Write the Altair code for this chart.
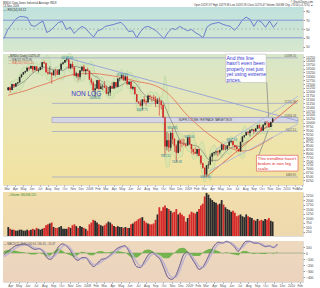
import altair as alt
import pandas as pd

# ---------------- data (weekly, Dow Jones Industrials) ----------------
week_close = [
    12276, 12110, 12481, 12354, 12560, 12612, 12961, 13120, 13264, 13327, 13556, 13507, 13668, 13424, 13639, 13361, 13409,
    13611, 13907, 13851, 13265, 13182, 13239, 13079, 13379, 13358, 13113, 13442, 13820, 13896, 14066, 14093, 13522, 13807,
    13595, 13043, 13177, 12981, 13372, 13625, 13340, 13450, 13366,
    12800, 12606, 12099, 12207, 12743, 12183, 12348, 12381, 12266, 11894, 11951, 12361, 12216, 12609, 12325, 12849, 12891,
    13058, 12745, 12986, 12480, 12638, 12209, 12307, 11843, 11346, 11288, 11100, 11496, 11370, 11326, 11734, 11659, 11628,
    11543, 11220, 11421, 11388, 11143, 10325, 8451, 8852, 8378, 9325, 8943, 8497, 8046, 8829, 8635, 8629, 8579, 8515,
    9034, 8599, 8281, 8077, 8001, 8280, 7850, 7366, 7063, 6627, 7224, 7278, 7776, 8018, 8083, 8131, 8076, 8212, 8575, 8268,
    8277, 8500, 8764, 8799, 8539, 8438, 8280, 8147, 8743, 9093, 9172, 9370, 9321, 9506, 9544, 9441, 9606, 9820, 9665, 9488,
    9865, 9996, 9972, 9713, 10023, 10270]
week_high = [
    12300, 12330, 12520, 12500, 12570, 12630, 12970, 13140, 13290, 13360, 13570, 13630, 13700, 13690, 13660, 13660, 13540,
    13630, 13920, 14020, 13900, 13470, 13660, 13250, 13400, 13500, 13460, 13470, 13830, 13950, 14080, 14198, 14100, 13830,
    13960, 13650, 13300, 13180, 13400, 13650, 13750, 13460, 13560,
    13370, 12900, 12700, 12500, 12780, 12750, 12560, 12500, 12700, 12400, 12300, 12400, 12600, 12650, 12640, 12880, 12920,
    13137, 13100, 13030, 13000, 12660, 12680, 12380, 12320, 11860, 11400, 11450, 11520, 11700, 11500, 11800, 11800, 11700,
    11790, 11720, 11600, 11650, 11450, 11200, 10400, 9400, 9300, 9400, 9654, 9000, 8600, 8900, 8900, 8950, 8950, 8650,
    9050, 9088, 8600, 8300, 8400, 8300, 8300, 7900, 7400, 7100, 7250, 7500, 7930, 8050, 8100, 8200, 8200, 8250, 8600, 8600,
    8500, 8550, 8800, 8878, 8800, 8550, 8550, 8300, 8780, 9100, 9200, 9400, 9450, 9550, 9600, 9550, 9650, 9850, 9900, 9750,
    9870, 10100, 10120, 10050, 10050, 10300]
week_low = [
    12050, 11940, 12100, 12260, 12300, 12470, 12600, 12900, 13100, 13180, 13300, 13380, 13500, 13250, 13380, 13340, 13250,
    13400, 13450, 13800, 13250, 13100, 13130, 12520, 13050, 13000, 13080, 13080, 13400, 13750, 13860, 13950, 13500, 13460,
    13500, 13030, 12900, 12720, 12800, 13300, 13250, 13100, 13320,
    12780, 12450, 12050, 11635, 12180, 12100, 12150, 12090, 12230, 11850, 11740, 11730, 12200, 12200, 12300, 12290, 12680,
    12800, 12720, 12700, 12470, 12440, 12180, 12100, 11830, 11330, 11200, 11050, 10828, 11250, 11100, 11300, 11500, 11350,
    11400, 11000, 11200, 10450, 10850, 10300, 7882, 8200, 8100, 8175, 8600, 8100, 7449, 8000, 8100, 8400, 8500, 8400,
    8500, 8550, 8000, 7900, 7950, 7850, 7800, 7250, 7000, 6470, 6550, 7000, 7250, 7450, 7850, 7900, 7800, 7950, 8200, 8200,
    8200, 8250, 8450, 8650, 8450, 8300, 8250, 8087, 8100, 8700, 9000, 9150, 9200, 9100, 9450, 9250, 9400, 9600, 9600, 9430,
    9450, 9800, 9850, 9670, 9700, 10000]
week_volume = [
    500, 400, 350, 350, 300, 300, 350, 350, 300, 300, 350, 300, 350, 400, 350, 450, 400, 350, 400, 450, 600, 650, 700, 750,
    500, 450, 450, 500, 550, 400, 400, 400, 500, 450, 600, 650, 550, 450, 550, 500, 450, 400, 300,
    650, 750, 900, 850, 750, 650, 600, 550, 600, 700, 800, 750, 650, 550, 500, 550, 500, 500, 450, 500, 450, 450, 650, 700,
    800, 850, 950, 1000, 1050, 850, 750, 700, 650, 650, 700, 900, 1200, 1600, 1400, 1600, 1700, 1550, 1500, 1400, 1300,
    1350, 1500, 1200, 1300, 1200, 1100, 800,
    1000, 1200, 1350, 1300, 1250, 1350, 1500, 1700, 1800, 2200, 2400, 2300, 2100, 2000, 1900, 1850, 1750, 1800, 2000, 1750,
    1600, 1500, 1450, 1350, 1400, 1300, 1100, 1150, 1200, 1100, 1050, 1200, 1100, 1050, 1000, 900, 850, 950, 850, 900, 850,
    950, 900, 1000, 850, 800]
first_open = 12114

# biweekly indicator readings
rsi_values = [28, 49, 60, 72, 78, 78, 76, 58, 56, 63, 68, 42, 47, 56, 65, 67, 49, 54, 40, 49,
              56, 51, 40, 32, 46, 49, 56, 58, 60, 63, 65, 56, 44, 46, 30, 44, 54, 56, 51, 46,
              37, 28, 42, 51, 49, 56, 51, 46, 49, 42, 37, 30, 54, 61, 63, 65, 61, 58, 56, 47,
              56, 70, 77, 72, 56, 70, 65, 54, 68, 54, 65]
macd_values = [-30, 30, 75, 120, 135, 150, 135, 90, 60, 75, 30, -75, -105, -15, 105, 150, 120, 45, -75, -120,
               -75, -75, -165, -225, -165, -105, -90, -45, 15, 75, 105, 120, 30, -105, -225, -240, -135, -30, 15, -45,
               -105, -255, -405, -435, -375, -210, -30, 15, -75, -180, -270, -225, -105, 30, 135, 180, 165, 195, 165, 105,
               30, 120, 195, 195, 165, 165, 135, 105, 120, 90, 150]
signal_values = [-60, -20, 30, 80, 115, 135, 140, 115, 85, 75, 50, -20, -70, -50, 30, 110, 130, 80, -10, -90,
                 -95, -80, -130, -190, -190, -140, -100, -60, -10, 40, 85, 110, 70, -30, -150, -210, -180, -90, -20, -20,
                 -70, -170, -320, -400, -400, -290, -120, -20, -40, -130, -220, -240, -160, -40, 80, 150, 170, 180, 175, 130,
                 70, 90, 160, 190, 180, 170, 150, 120, 115, 100, 125]

ma200_dates = ["2007-03-06", "2007-04-15", "2007-05-15", "2007-06-15", "2007-08-01", "2007-09-01", "2007-10-15",
               "2007-12-01", "2008-01-15", "2008-03-01", "2008-05-01", "2008-07-01", "2008-08-15", "2008-09-15",
               "2008-10-15", "2008-11-15", "2008-12-15", "2009-01-15", "2009-02-15", "2009-03-15", "2009-04-15",
               "2009-05-15", "2009-06-15", "2009-07-15", "2009-08-15", "2009-09-15", "2009-10-15", "2009-11-13"]
ma200_values = [11770, 11950, 12100, 12300, 12560, 12780, 13050, 13170, 13190, 13100, 12920, 12650, 12500, 12300,
                11950, 11400, 10750, 10200, 9700, 9300, 8900, 8550, 8300, 8150, 8200, 8450, 8750, 9050]

fib_levels = [14198.10, 11245.99, 10334.03, 9422.10, 6469.95]
fib_labels = ["14198.10", "11245.99", "10334.03", "9422.10", "6469.95"]
fib_starts = ["2007-03-06", "2007-08-16", "2007-08-16", "2007-08-16", "2007-08-16"]
zone_low, zone_high = 10000, 10334

trend_x1 = ["2007-10-11", "2009-03-09", "2009-04-15", "2009-03-20", "2009-10-20", "2009-09-19"]
trend_y1 = [14198, 6470, 8260, 6855, 12602, 7812]
trend_x2 = ["2010-02-13", "2010-02-13", "2010-02-13", "2010-02-13", "2009-10-27", "2009-10-25"]
trend_y2 = [10111, 11452, 11708, 9920, 10366, 9473]
trend_col = ["#8a98dc", "#e0533a", "#a9b4dc", "#a9b4dc", "#8c8c8c", "#8c8c8c"]

swing_dates = ["2007-10-11", "2008-01-22", "2008-05-02", "2008-07-15", "2008-10-10", "2008-11-04",
               "2008-11-21", "2009-01-06", "2009-03-06", "2009-06-12"]
swing_prices = [14198, 11635, 13137, 10828, 7882, 9654, 7449, 9088, 6470, 8878]
swing_text = ["14198.10", "11634.82", "13136.69", "10827.71", "7882.51", "9653.95", "7449.38", "9088.06",
              "6469.95", "8877.93"]
swing_dy = [-3, 3, -3, 3, 3, -3, 3, -3, 3, -3]

note1 = ["And this line", "hasn't even been", "properly met just", "yet using extreme", "prices."]
note1_y = [14198, 13847, 13496, 13145, 12794]
note2 = ["This trendline hasn't", "broken in non log", "scale."]
note2_y = [7653, 7334, 7015]

# ---------------- layout ----------------
W = 300
H_RSI, H_PRICE, H_VOL, H_MACD = 44, 131, 44, 41
FONT = "Liberation Sans"

x_scale = alt.Scale(domain=[alt.DateTime(year=2007, month=3, date=6),
                            alt.DateTime(year=2010, month=2, date=13)], nice=False)
rsi_scale = alt.Scale(domain=[0, 100], nice=False, zero=False)
p_scale = alt.Scale(domain=[5950, 14450], nice=False, zero=False)
v_scale = alt.Scale(domain=[0, 2450], nice=False)
m_scale = alt.Scale(domain=[-480, 200], nice=False, zero=False)

date_labels = ("month(datum.value)==0 ? timeFormat(datum.value,'%Y') : timeFormat(datum.value,'%b')")


def date_axis():
    return alt.Axis(orient="bottom", tickCount=alt.TimeIntervalStep(interval="month", step=1),
                    labelExpr=date_labels, labelFontSize=3.2, tickSize=1.2, labelPadding=0.4,
                    domain=False, grid=False, title=None, labelColor="#555", tickColor="#999",
                    labelOverlap=False)


def right_axis(values):
    return alt.Axis(orient="right", values=values, labelFontSize=3.3, tickSize=1.5, labelPadding=1,
                    domain=False, grid=False, title=None, labelColor="#444", tickColor="#999",
                    labelOverlap=False, format=".0f")


def make_enc(scale, yaxis, xaxis):
    def X(field):
        return alt.X(f"{field}:T", scale=x_scale, axis=xaxis, title=None)

    def Y(field):
        return alt.Y(f"{field}:Q", scale=scale, axis=yaxis, title=None)
    return X, Y


def bg(h, stops):
    grad = alt.Gradient(gradient="linear",
                        stops=[alt.GradientStop(color=c, offset=o) for o, c in stops],
                        x1=0, x2=0, y1=0, y2=1)
    return alt.Chart(pd.DataFrame({"k": [0]})).mark_rect(fill=grad).encode(
        x=alt.value(0), x2=alt.value(W), y=alt.value(0), y2=alt.value(h))


# ---------------- frames ----------------
wk = pd.DataFrame({
    "date": pd.date_range("2007-03-07", periods=len(week_close), freq="W-WED"),
    "close": week_close, "high": week_high, "low": week_low, "volume": week_volume})
wk["open"] = [first_open] + week_close[:-1]
wk["dir"] = ["up" if c >= o else "down" for c, o in zip(wk["close"], wk["open"])]

bw = pd.DataFrame({"date": pd.date_range("2007-03-09", periods=len(rsi_values), freq="2W-FRI"),
                   "rsi": rsi_values, "macd": macd_values, "signal": signal_values})

# ---------------- RSI panel ----------------
X, Y = make_enc(rsi_scale, right_axis([10, 30, 50, 70, 90]), None)
rsi_bg = bg(H_RSI, [(0, "#bfe2de"), (1, "#d6e7cd")])
rsi_refs = alt.Chart(pd.DataFrame({"lvl": [70, 30]})).mark_rule(color="#8696d6", strokeWidth=1).encode(
    y=Y("lvl"))
rsi_mid = alt.Chart(pd.DataFrame({"lvl": [50]})).mark_rule(color="#9a9aaa", strokeWidth=0.6,
                                                           strokeDash=[2, 2]).encode(y=Y("lvl"))
rsi_line = alt.Chart(bw).mark_line(color="#5062cc", strokeWidth=0.8).encode(x=X("date"), y=Y("rsi"))
rsi_head = alt.Chart(pd.DataFrame({"t": ["\u2014 RSI(14) 63.12"], "d": ["2007-03-08"], "v": [93]})).mark_text(
    fontSize=3, align="left", color="#333", font=FONT).encode(x=X("d"), y=Y("v"), text="t:N")
head_left = alt.Chart(pd.DataFrame({"t": ["$INDU Dow Jones Industrial Average  INDX", "13-Nov-2009"],
                                    "yy": [-4.6, -1.6]})).mark_text(
    fontSize=2.8, align="left", color="#333", font=FONT).encode(
    x=alt.value(0), y=alt.Y("yy:Q", scale=None), text="t:N")
head_right = alt.Chart(pd.DataFrame({
    "t": ["\u00a9 StockCharts.com",
          "Open 10197.47  High 10279.96  Low 10192.59  Close 10270.47  Volume 166.8M  Chg +73.00 (+0.72%) \u25b2"],
    "yy": [-4.6, -1.6]})).mark_text(fontSize=2.6, align="right", color="#333", font=FONT).encode(
    x=alt.value(W + 10), y=alt.Y("yy:Q", scale=None), text="t:N")
rsi_chart = alt.layer(rsi_bg, rsi_line, rsi_refs, rsi_mid, rsi_head, head_left, head_right).properties(
    width=W, height=H_RSI)

# ---------------- price panel ----------------
X, Y = make_enc(p_scale, right_axis(list(range(6250, 14251, 250))), date_axis())
price_bg = bg(H_PRICE, [(0, "#d7e6c9"), (0.45, "#e9e6b4"), (1, "#f3e2a0")])

bb = alt.Chart(wk).transform_window(
    bb_mean="mean(close)", bb_sd="stdev(close)", frame=[-3, 0], sort=[alt.SortField("date")]
).transform_filter("isValid(datum.bb_sd)").transform_calculate(
    bb_up="datum.bb_mean + 2*datum.bb_sd + 60", bb_lo="datum.bb_mean - 2*datum.bb_sd - 60")
bb_area = bb.mark_area(color="#c8e2ae", opacity=0.45, interpolate="monotone").encode(
    x=X("date"), y=Y("bb_up"), y2="bb_lo:Q")
bb_up = bb.mark_line(color="#a6cf94", strokeWidth=0.4, interpolate="monotone").encode(x=X("date"), y=Y("bb_up"))
bb_lo = bb.mark_line(color="#a6cf94", strokeWidth=0.4, interpolate="monotone").encode(x=X("date"), y=Y("bb_lo"))

fib = pd.DataFrame({"s": fib_starts, "e": ["2010-02-13"] * len(fib_levels), "lvl": fib_levels,
                    "lab": fib_labels})
fib_rules = alt.Chart(fib).mark_rule(color="#a3a9c6", strokeWidth=0.8).encode(
    x=X("s"), x2="e:T", y=Y("lvl"))
fib_text = alt.Chart(fib).mark_text(fontSize=2.8, align="right", dx=-2, dy=-2.2, color="#555", font=FONT).encode(
    x=X("e"), y=Y("lvl"), text="lab:N")

zone = alt.Chart(pd.DataFrame({"s": ["2007-08-16"], "e": ["2010-02-13"], "lo": [zone_low], "hi": [zone_high]})
                 ).mark_rect(fill="#d5d5ec", stroke="#8a8ab8", strokeWidth=0.5, opacity=0.9).encode(
    x=X("s"), x2="e:T", y=Y("lo"), y2="hi:Q")
zone_text = alt.Chart(pd.DataFrame({"d": ["2009-03-07"], "v": [(zone_low + zone_high) / 2],
                                    "t": ["SUPPLY ZONE / RETRACE TARGET BOX"]})).mark_text(
    fontSize=2.8, color="#333", font=FONT).encode(x=X("d"), y=Y("v"), text="t:N")

ma200 = alt.Chart(pd.DataFrame({"d": ma200_dates, "v": ma200_values})).mark_line(
    color="#e27a5c", strokeWidth=0.9, interpolate="monotone").encode(x=X("d"), y=Y("v"))
ma50 = alt.Chart(wk).transform_window(
    ma50="mean(close)", frame=[-9, 0], sort=[alt.SortField("date")]).mark_line(
    color="#6f6f6f", strokeWidth=0.6, interpolate="monotone").encode(x=X("date"), y=Y("ma50"))

trends = alt.Chart(pd.DataFrame({"x1": trend_x1, "y1": trend_y1, "x2": trend_x2, "y2": trend_y2,
                                 "c": trend_col})).mark_rule(strokeWidth=0.8).encode(
    x=X("x1"), x2="x2:T", y=Y("y1"), y2="y2:Q", color=alt.Color("c:N", scale=None))

candle_color = alt.Color("dir:N", scale=alt.Scale(domain=["up", "down"], range=["#2b2b2b", "#d42a2a"]),
                         legend=None)
wicks = alt.Chart(wk).mark_rule(strokeWidth=0.6).encode(
    x=X("date"), y=Y("low"), y2="high:Q", color=candle_color)
bodies = alt.Chart(wk).mark_bar(size=1.4).encode(
    x=X("date"), y=Y("open"), y2="close:Q", color=candle_color)

swings = alt.Chart(pd.DataFrame({"d": swing_dates, "v": swing_prices, "t": swing_text, "dy": swing_dy})
                   ).mark_text(fontSize=2.8, color="#1f7f93", font=FONT).encode(
    x=X("d"), y=Y("v"), text="t:N", yOffset="dy:Q")

legend = alt.Chart(pd.DataFrame({
    "d": ["2007-03-08"] * 3, "v": [14326, 14102, 13879],
    "t": ["\u25aa $INDU (Daily) 10270.47", "\u2014 MA(50) 9925.86", "\u2014 MA(200) 9051.40"],
    "c": ["#222222", "#555555", "#e0603f"]})).mark_text(fontSize=2.8, align="left", font=FONT).encode(
    x=X("d"), y=Y("v"), text="t:N", color=alt.Color("c:N", scale=None))

non_log = alt.Chart(pd.DataFrame({"d": ["2007-12-21"], "v": [11835], "t": ["NON LOG"]})).mark_text(
    fontSize=6.5, color="#3a3acc", font=FONT).encode(x=X("d"), y=Y("v"), text="t:N")

box1 = alt.Chart(pd.DataFrame({"s": ["2009-05-21"], "e": ["2009-10-18"], "lo": [12602], "hi": [14440]})
                 ).mark_rect(fill="white", stroke="#b0b0b0", strokeWidth=0.5).encode(
    x=X("s"), x2="e:T", y=Y("lo"), y2="hi:Q")
box1_text = alt.Chart(pd.DataFrame({"d": ["2009-05-24"] * len(note1), "v": note1_y, "t": note1})).mark_text(
    fontSize=5, align="left", color="#3535d0", font=FONT).encode(x=X("d"), y=Y("v"), text="t:N")
box2 = alt.Chart(pd.DataFrame({"s": ["2009-09-12"], "e": ["2010-02-13"], "lo": [6855], "hi": [7876]})
                 ).mark_rect(fill="white", stroke="#e04a4a", strokeWidth=0.6).encode(
    x=X("s"), x2="e:T", y=Y("lo"), y2="hi:Q")
box2_text = alt.Chart(pd.DataFrame({"d": ["2009-09-17"] * len(note2), "v": note2_y, "t": note2})).mark_text(
    fontSize=4.3, align="left", color="#e02020", font=FONT).encode(x=X("d"), y=Y("v"), text="t:N")

price_chart = alt.layer(price_bg, bodies, bb_area, bb_up, bb_lo, fib_rules, zone, zone_text, fib_text, ma200,
                        ma50, trends, wicks, bodies, swings, legend, non_log, box1, box1_text, box2, box2_text
                        ).properties(width=W, height=H_PRICE)

# ---------------- volume panel ----------------
X, Y = make_enc(v_scale, right_axis(list(range(250, 2251, 250))), None)
vol_bg = bg(H_VOL, [(0, "#f1dead"), (1, "#eed8ad")])
vol_bars = alt.Chart(wk).mark_bar(size=1.8).encode(
    x=X("date"), y=Y("volume"),
    color=alt.Color("dir:N", scale=alt.Scale(domain=["up", "down"], range=["#3f9a3a", "#c8164c"]),
                    legend=None))
vol_head = alt.Chart(pd.DataFrame({"d": ["2007-03-08"], "v": [2300], "t": ["\u25aa Volume 166,868,120"]})
                     ).mark_text(fontSize=2.8, align="left", color="#2f8a2f", font=FONT).encode(
    x=X("d"), y=Y("v"), text="t:N")
vol_chart = alt.layer(vol_bg, vol_bars, vol_head).properties(width=W, height=H_VOL)

# ---------------- MACD panel ----------------
X, Y = make_enc(m_scale, right_axis([-400, -300, -200, -100, 0, 100]), date_axis())
macd_bg = bg(H_MACD, [(0, "#eed9bd"), (1, "#ebd3bf")])
zero = alt.Chart(pd.DataFrame({"z": [0]})).mark_rule(color="#6f8a6a", strokeWidth=0.5).encode(y=Y("z"))
hist = alt.Chart(bw).transform_calculate(h="datum.macd - datum.signal").mark_area(
    color="#5fae3c", opacity=0.85, interpolate="monotone").encode(
    x=X("date"), y=Y("h"), y2=alt.datum(0))
sig = alt.Chart(bw).mark_line(color="#c0b4cf", strokeWidth=1.6, interpolate="monotone").encode(
    x=X("date"), y=Y("signal"))
macd = alt.Chart(bw).mark_line(color="#6e6090", strokeWidth=0.7, interpolate="monotone").encode(
    x=X("date"), y=Y("macd"))
macd_head = alt.Chart(pd.DataFrame({"d": ["2007-03-08"], "v": [160],
                                    "t": ["\u2014 MACD(12,26,9) 116.94, 130.41, -13.47"]})).mark_text(
    fontSize=2.8, align="left", color="#555", font=FONT).encode(x=X("d"), y=Y("v"), text="t:N")
macd_chart = alt.layer(macd_bg, macd, zero, hist, sig, macd, macd_head).properties(width=W, height=H_MACD)

chart = alt.vconcat(rsi_chart, price_chart, vol_chart, macd_chart, spacing=0).resolve_scale(
    y="independent").properties(
    padding={"left": 0, "top": 0, "right": 0, "bottom": 0}, background="white"
).configure_view(stroke="#9a9a9a", strokeWidth=0.6).configure(font=FONT)

chart.save("out.html", embed_options={"renderer": "svg", "actions": False})
